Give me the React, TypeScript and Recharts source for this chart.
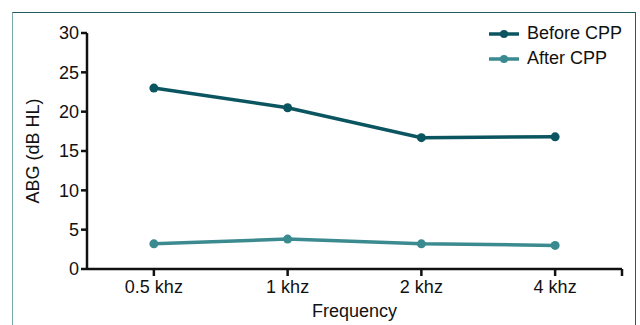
import { CartesianGrid, Legend, Line, LineChart, XAxis, YAxis } from 'recharts';

const frequencies = ['0.5 khz', '1 khz', '2 khz', '4 khz'];
const beforeCpp = [23, 20.5, 16.7, 16.8];
const afterCpp = [3.2, 3.8, 3.2, 3.0];
const yTicks = [0, 5, 10, 15, 20, 25, 30];

const BEFORE_COLOR = '#0b5560';
const AFTER_COLOR = '#3a8a90';
const FONT = 'Arial, "Liberation Sans", sans-serif';
const FS = 18;
const TICK_SIZE = 7;
const TICK_MARGIN = 4;

const data = frequencies.map((freq, i) => ({
    freq,
    before: beforeCpp[i],
    after: afterCpp[i],
}));

const series = [
    { key: 'before', name: 'Before CPP', color: BEFORE_COLOR },
    { key: 'after', name: 'After CPP', color: AFTER_COLOR },
];

// category tick; the last one also draws the closing tick at the axis end
function FreqTick(props: any) {
    const { x, y, payload, index, width } = props;
    const axisY = y - TICK_SIZE - TICK_MARGIN;
    const endX = x + width / (2 * frequencies.length);
    return (
        <g>
            <text x={x} y={y} dy="0.71em" textAnchor="middle" fill="#111" fontSize={FS}>
                {payload.value}
            </text>
            {index === frequencies.length - 1 && (
                <line
                    x1={endX}
                    y1={axisY}
                    x2={endX}
                    y2={axisY + TICK_SIZE}
                    stroke="#111"
                    strokeWidth={2.5}
                />
            )}
        </g>
    );
}

function LegendContent() {
    return (
        <div style={{ fontFamily: FONT, fontSize: FS, color: '#111' }}>
            {series.map((s) => (
                <div
                    key={s.key}
                    style={{ display: 'flex', alignItems: 'center', height: 25 }}
                >
                    <svg width={38} height={12}>
                        <line x1={0} y1={6} x2={30} y2={6} stroke={s.color} strokeWidth={3.5} />
                        <circle cx={15} cy={6} r={4} fill={s.color} />
                    </svg>
                    <span>{s.name}</span>
                </div>
            ))}
        </div>
    );
}

export default function App() {
    return (
        <div
            style={{
                position: 'absolute',
                left: 12,
                top: 12,
                width: 622,
                height: 330,
                borderTop: '1.5px solid #1f5d62',
                borderRight: '1.5px solid #1f5d62',
                borderLeft: '1.5px solid #7aa9ac',
                background: '#fff',
            }}
        >
            <LineChart
                width={622}
                height={312}
                data={data}
                margin={{ top: 20, right: 13, left: 0, bottom: 0 }}
                style={{ fontFamily: FONT }}
            >
                <CartesianGrid stroke="none" />
                <XAxis
                    dataKey="freq"
                    scale="band"
                    height={56}
                    axisLine={{ stroke: '#111', strokeWidth: 2.5 }}
                    tickLine={{ stroke: '#111', strokeWidth: 2.5 }}
                    tickSize={TICK_SIZE}
                    tickMargin={TICK_MARGIN}
                    tick={<FreqTick />}
                    label={{
                        value: 'Frequency',
                        position: 'insideBottom',
                        offset: 8,
                        fill: '#111',
                        fontSize: FS,
                    }}
                />
                <YAxis
                    domain={[0, 30]}
                    ticks={yTicks}
                    width={74}
                    axisLine={{ stroke: '#111', strokeWidth: 2.5 }}
                    tickLine={{ stroke: '#111', strokeWidth: 2.5 }}
                    tickSize={6}
                    tick={{ fill: '#111', fontSize: FS }}
                    label={{
                        value: 'ABG (dB HL)',
                        angle: -90,
                        position: 'insideLeft',
                        offset: 20,
                        style: { textAnchor: 'middle' },
                        fill: '#111',
                        fontSize: FS,
                    }}
                />
                <Legend
                    layout="vertical"
                    align="center"
                    verticalAlign="middle"
                    wrapperStyle={{ top: 8, left: 476, width: 'auto' }}
                    content={<LegendContent />}
                />
                {series.map((s) => (
                    <Line
                        key={s.key}
                        dataKey={s.key}
                        name={s.name}
                        stroke={s.color}
                        strokeWidth={3.5}
                        dot={{ r: 4.5, fill: s.color, stroke: s.color, strokeWidth: 0 }}
                        isAnimationActive={false}
                    />
                ))}
            </LineChart>
        </div>
    );
}
